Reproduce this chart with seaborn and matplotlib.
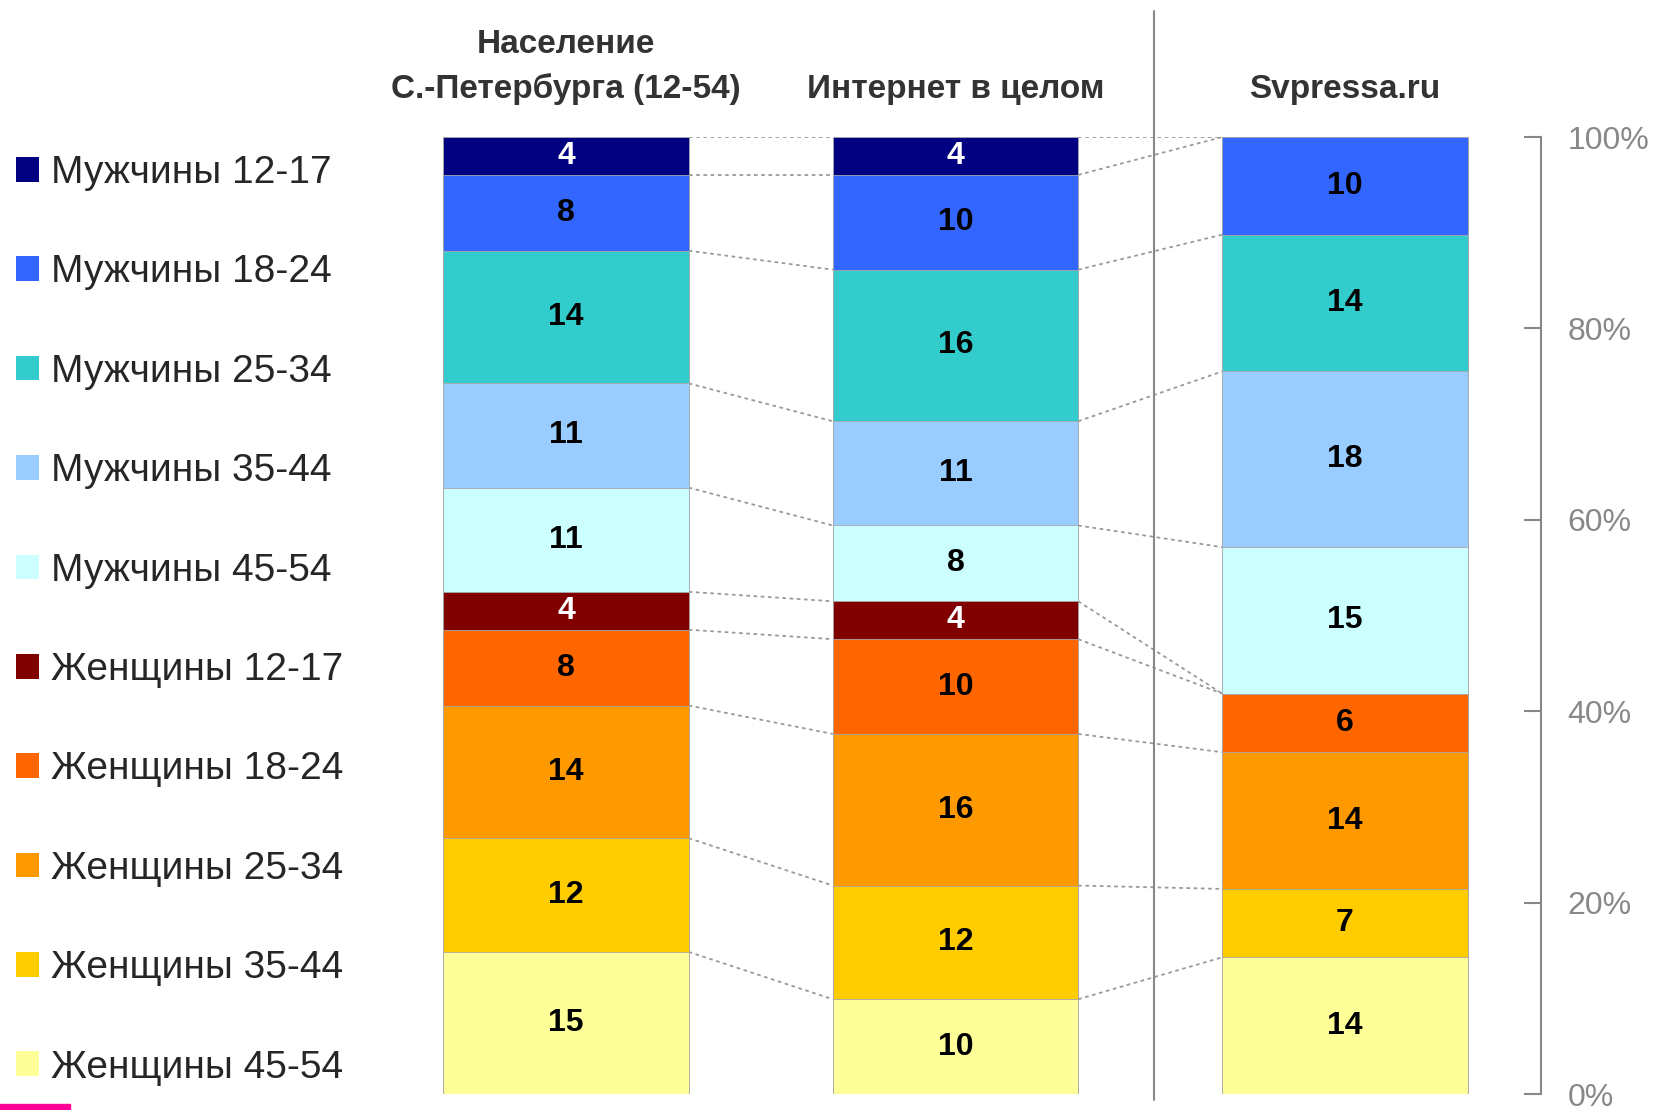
import matplotlib.pyplot as plt
import numpy as np
import pandas as pd
import seaborn as sns
from matplotlib.patches import Patch, Rectangle

sns.set_style("white")
plt.rcParams["font.family"] = ["Liberation Sans", "DejaVu Sans"]

# ---------------------------------------------------------------------
# data: % of audience by sex / age group
# ---------------------------------------------------------------------
columns = ["Население\nС.-Петербурга (12-54)", "Интернет в целом", "Svpressa.ru"]
groups = ["Мужчины 12-17", "Мужчины 18-24", "Мужчины 25-34", "Мужчины 35-44",
          "Мужчины 45-54", "Женщины 12-17", "Женщины 18-24", "Женщины 25-34",
          "Женщины 35-44", "Женщины 45-54"]
colors = ["#000080", "#3366FF", "#33CCCC", "#99CCFF", "#CCFFFF",
          "#800000", "#FF6600", "#FF9900", "#FFCC00", "#FFFF99"]
pop_spb = [4, 8, 14, 11, 11, 4, 8, 14, 12, 15]
internet = [4, 10, 16, 11, 8, 4, 10, 16, 12, 10]
svpressa = [0, 10, 14, 18, 15, 0, 6, 14, 7, 14]
dark_groups = ["Мужчины 12-17", "Женщины 12-17"]

df = pd.DataFrame({
    "column": np.repeat(columns, len(groups)),
    "group": groups * len(columns),
    "value": pop_spb + internet + svpressa,
})
df["share"] = df["value"] / df.groupby("column")["value"].transform("sum") * 100
df["top"] = df.iloc[::-1].groupby("column")["share"].cumsum()
df["bottom"] = df["top"] - df["share"]

# ---------------------------------------------------------------------
# figure
# ---------------------------------------------------------------------
W, H = 1657, 1110
fig = plt.figure(figsize=(W / 100, H / 100), dpi=100)
ax = fig.add_axes([0, 16 / H, 1, 957 / H])
bw = 0.63

# stacked bars: draw cumulative tops, highest first
for g, c in zip(groups, colors):
    sub = df[df["group"] == g]
    sns.barplot(data=sub, x="column", y="top", order=columns, color=c,
                saturation=1, width=bw, errorbar=None, edgecolor="#a8a8a8",
                linewidth=0.6, ax=ax)

# value labels
col_pos = {c: i for i, c in enumerate(columns)}
for _, r in df[df["value"] > 0].iterrows():
    ax.text(col_pos[r["column"]], r["bottom"] + r["share"] / 2, str(r["value"]),
            ha="center", va="center", fontsize=23, fontweight="bold",
            color="white" if r["group"] in dark_groups else "black")

# dotted connectors between columns
for i in range(len(columns) - 1):
    a = df[df["column"] == columns[i]].set_index("group")["top"]
    b = df[df["column"] == columns[i + 1]].set_index("group")["top"]
    for g in groups:
        ax.plot([i + bw / 2, i + 1 - bw / 2], [a[g], b[g]], color="#999999",
                lw=1.3, ls=(0, (2, 2)), zorder=0.5)

# separator between general figures and the site
ax.axvline(1.51, ymin=-0.006, ymax=1.132, color="#888888", lw=1.5, clip_on=False)

# column headers
for i, name in enumerate(columns):
    lines = name.split("\n")
    for k, line in enumerate(reversed(lines)):
        ax.text(i, 104.1 + k * 4.7, line, ha="center", va="baseline",
                fontsize=24, fontweight="bold", color="#333333")

ax.set_xlim(-1.453, 2.801)
ax.set_ylim(0, 100)
ax.set_xticks([])
ax.set_xlabel("")
ax.set_ylabel("")

# right percent axis
ax.yaxis.tick_right()
ax.set_yticks(range(0, 101, 20))
ax.set_yticklabels([f"{t}%" for t in range(0, 101, 20)])
ax.tick_params(axis="y", direction="in", length=12, width=1.5, color="#888888",
               labelcolor="#888888", labelsize=23, pad=19)
for s in ["left", "top", "bottom"]:
    ax.spines[s].set_visible(False)
ax.spines["right"].set_position(("data", 2.503))
ax.spines["right"].set_color("#888888")
ax.spines["right"].set_linewidth(1.5)

# legend on the left
handles = [Patch(facecolor=c, edgecolor="none", label=g) for g, c in zip(groups, colors)]
ax.legend(handles=handles, loc="upper left", bbox_to_anchor=(16 / W, 1 - 155 / H),
          bbox_transform=fig.transFigure, frameon=False, fontsize=28,
          handlelength=0.6, handleheight=0.6, handletextpad=0.3,
          labelspacing=1.63, borderpad=0, borderaxespad=0)

# logo strip bottom-left
fig.add_artist(Rectangle((0, 1 / H), 70 / W, 5 / H, transform=fig.transFigure,
                         color="#FF0099"))

fig.savefig("out.png", dpi=100)
